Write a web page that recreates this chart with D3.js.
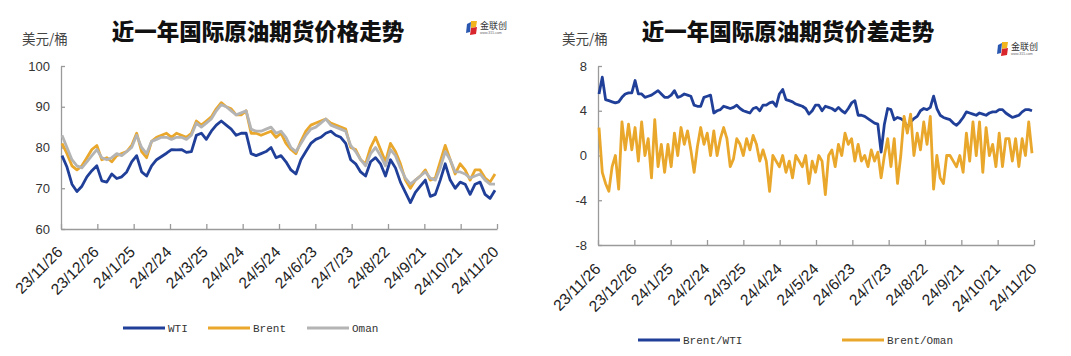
<!DOCTYPE html>
<html><head><meta charset="utf-8">
<script src="https://cdn.jsdelivr.net/npm/d3@7"></script>
<style>
body{margin:0;background:#fff;}
svg{display:block;}
</style></head>
<body>
<svg id="c" width="1071" height="356"></svg>
<script>
// ---------- data ----------
const dateLabels = ["23/11/26","23/12/26","24/1/25","24/2/24","24/3/25","24/4/24","24/5/24","24/6/23","24/7/23","24/8/22","24/9/21","24/10/21","24/11/20"];
const priceTicks = [60,70,80,90,100];
const spreadTicks = [-8,-4,0,4,8];

const wti = [78,75.2,71,69.2,70.5,72.8,74.3,75.5,71.8,71.5,73.5,72.4,72.8,74,76.5,78,74,73,75.5,77,77.8,78.6,79.5,79.4,79.5,78.8,79,83,83.5,82,84,85.5,86.5,85.5,84.5,83,83.5,83.5,78.5,78,78.5,79,80,77.5,78,76.5,74.5,73.5,77,79,81,82,82.5,83.5,84,83,82.5,81,77,76,74,73,76.5,77.5,76,73,77,75,71.5,69,66.5,69,70.5,72,68,68.5,72,76,72,70,71.5,71,68.5,71,71.5,68.5,67.5,69.5];
const brent = [81,78.5,75.5,74.5,75.5,77.5,79.5,80.5,77,77.5,76.5,78,78.5,79,80.5,83.5,79,77.5,81.5,82.5,83,83.5,82.5,83.5,83,82.5,83.5,86.5,85.5,86.5,87.5,89.5,91,90,89.5,88,88,89,83.5,83.5,83,83.5,84,82.5,83.5,81,79.5,78.5,81.5,84,85.5,86,86.5,87,86,85.5,85,84.5,80,79.5,77,76,80,82.5,79.5,76.5,81,79,76,72,70,72,73,74.5,72,72.5,76.5,80.5,77,73.5,76,74.5,72,74.5,74.5,72.5,71.5,73.5];
const oman = [83,80,77,75.5,75,76.5,78,79.5,77.5,77,77.5,78.5,78,79,80,83,80,78.5,81.5,82,82.5,82.5,82,82.5,82.5,82,83,86,85,86,87,89,90.5,90,89,88,88.5,89,84.5,84,84,84.5,85,83.5,84,82.5,80,79,81,83,84.5,85,86,87,85.5,85,84.5,84,80.5,79,77,75.5,78.5,80,78,75.5,79.5,78,75,72.5,71,72,73,74,72.5,72,75,79,77,74,74,73.5,72.5,73,73.5,72,71,71];

const brentWti = [5.5,7,5,4.9,4.8,4.7,4.8,5.2,5.5,5.6,5.6,6.7,5.5,5.5,5.2,5.3,5.4,5.6,5.8,5.5,5.2,5.2,5.4,5.8,5.2,5.3,5.5,5.4,5.3,4.5,4.4,4.4,5.2,5.3,5.4,3.8,4.0,4.1,4.4,4.3,4.2,4.3,4.5,4.2,4.0,3.9,3.8,4.2,4.3,4.0,4.5,4.5,4.7,4.8,4.4,5.5,5.9,5.0,4.9,4.8,4.6,4.5,4.4,4.2,3.7,4.0,4.5,4.5,4.0,4.4,4.3,4.2,4.0,4.3,4.0,3.8,4.2,4.7,4.9,3.6,3.6,3.5,3.3,3.1,2.9,2.8,0.3,2.8,4.2,4.1,3.2,3.4,3.3,3.1,2.5,3.0,3.3,3.5,4.0,4.2,4.1,4.3,5.3,4.2,3.6,3.4,3.3,3.2,2.9,2.7,3.0,3.4,3.9,3.8,3.7,3.6,3.8,3.7,3.6,3.8,3.9,3.9,4.1,4.1,3.8,3.6,3.4,3.5,3.6,3.9,4.1,4.1,4.0];
const brentOman = [2.5,-1.5,-2.5,-3.2,-1,0,-3,3,0.5,2.8,0.5,2.5,-0.5,3,0,1.5,-2,3.2,-1,1,-1.5,1,-1,2,0,2.5,1,2.2,0.5,-1.5,0.8,2.5,1,2,0,2.2,0,1.5,2.5,1.5,-1,-0.3,1.5,1,0,1.5,0.5,1.8,1,-0.5,0.5,-0.5,-3.2,0,-0.5,-1,0,-1.5,-0.5,-2,0,-0.5,-1,0,-2.5,-0.5,-1.5,0,-0.5,-3.5,0,0.5,-1,1,0,2,1,1.5,-0.5,1,-0.5,0,-1,0.5,-0.5,0.3,-2,0,1.5,-1,1.5,-2.5,0,3.5,2,3.7,0,2,0.5,3,1,3.5,-3,0,-2,-2.5,0,0,-0.5,-1,0,-1.5,2,-0.5,3,0,3,-1.5,2.5,0,1,-1,2,-1,1.5,1.5,-0.5,1.5,-1,1.5,0,3,0.2];

// ---------- style ----------
const C_BLUE = "#203f98", C_ORANGE = "#e9a72c", C_GRAY = "#b4b4b4", C_AXIS = "#9a9a9a";
const CJK = "'Noto Sans CJK SC','Noto Sans',sans-serif";
const svg = d3.select("#c");

function drawChart(cfg){
  const g = svg.append("g");
  const y = d3.scaleLinear().domain(cfg.yDomain).range([cfg.yBot, cfg.yTop]);
  const xTick = d3.scalePoint().domain(dateLabels).range([cfg.x0, cfg.x1]);

  // title
  g.append("text").attr("x", cfg.titleX).attr("y", 40).attr("text-anchor","middle")
    .style("font-family", CJK).style("font-weight", 900).style("font-size","22.5px").attr("fill","#111")
    .text(cfg.title);
  // unit
  g.append("text").attr("x", cfg.unitX).attr("y", 44)
    .style("font-family", CJK).style("font-size","13.5px").attr("fill","#444")
    .text("美元/桶");

  // y axis
  const ya = d3.axisLeft(y).tickValues(cfg.yTicks).tickSize(-4).tickSizeOuter(0).tickPadding(11);
  const yg = g.append("g").attr("transform", `translate(${cfg.x0},0)`).call(ya);
  yg.select(".domain").attr("stroke", C_AXIS).attr("stroke-width",1.3);
  yg.selectAll(".tick line").attr("stroke", C_AXIS).attr("stroke-width",1.3);
  yg.selectAll(".tick text").style("font-family","'Liberation Sans',Arial,sans-serif").style("font-size","13px").attr("fill","#333")
    .text(d => d < 0 ? "-" + Math.abs(d) : d);

  // x axis
  const xa = d3.axisBottom(xTick).tickSize(-5).tickSizeOuter(0);
  const xg = g.append("g").attr("transform", `translate(0,${cfg.yBot})`).call(xa);
  xg.select(".domain").attr("stroke", C_AXIS).attr("stroke-width",1.3);
  xg.selectAll(".tick line").attr("stroke", C_AXIS).attr("stroke-width",1.3);
  xg.selectAll(".tick text").attr("y",0).attr("dy",0)
    .attr("transform",`translate(${cfg.lblDx},${cfg.lblDy}) rotate(-45)`)
    .style("text-anchor","end")
    .style("font-family","'Liberation Sans',Arial,sans-serif").style("font-size","15.5px").attr("fill","#222");

  // series (draw order)
  cfg.draw.forEach(s => {
    const x = d3.scaleLinear().domain([0, s.values.length - 1]).range([cfg.x0 + 1, cfg.x1 - 2]);
    const line = d3.line().x((d,i) => x(i)).y(d => y(d));
    g.append("path").datum(s.values).attr("d", line).attr("fill","none")
      .attr("stroke", s.color).attr("stroke-width", 2.8).attr("stroke-linejoin","round");
  });

  // legend
  cfg.draw.forEach(s => {
    g.append("line").attr("x1", s.lx).attr("x2", s.lx + 42).attr("y1", cfg.legY).attr("y2", cfg.legY)
      .attr("stroke", s.color).attr("stroke-width", 3);
    g.append("text").attr("x", s.lx + 45).attr("y", cfg.legY + 4)
      .style("font-family","'Liberation Mono','DejaVu Sans Mono',monospace").style("font-size","11px").attr("fill","#333")
      .text(s.name);
  });

  // logo
  const lg = g.append("g").attr("transform", `translate(${cfg.logoX},${cfg.logoY})`);
  lg.append("path").attr("d","M2,3 L6,1 L5,11 L1,12 Z").attr("fill","#2a58b0");
  lg.append("path").attr("d","M6,0 L12,0 L11,6 L6,7 Z").attr("fill","#f2b51d");
  lg.append("path").attr("d","M6,7 L12,6 L11,13 L5,14 Z").attr("fill","#d8262c");
  lg.append("text").attr("x",15).attr("y",8).style("font-family",CJK).style("font-size","9px").attr("fill","#333").text("金联创");
  lg.append("text").attr("x",15).attr("y",13).style("font-family","sans-serif").style("font-size","3.5px").attr("fill","#666").text("www.315.com");
}

drawChart({
  title: "近一年国际原油期货价格走势", titleX: 258, unitX: 22,
  x0: 61, x1: 497, yTop: 66, yBot: 229, yDomain: [60,100], yTicks: priceTicks,
  lblDx: 2, lblDy: 24,
  legY: 328, logoX: 465, logoY: 21,
  draw: [
    {name:"WTI", values: wti, color: C_BLUE, lx: 123},
    {name:"Brent", values: brent, color: C_ORANGE, lx: 208},
    {name:"Oman", values: oman, color: C_GRAY, lx: 307}
  ]
});
drawChart({
  title: "近一年国际原油期货价差走势", titleX: 788, unitX: 562,
  x0: 598, x1: 1034, yTop: 66, yBot: 245, yDomain: [-8,8], yTicks: spreadTicks,
  lblDx: 3, lblDy: 25,
  legY: 340, logoX: 996, logoY: 42,
  draw: [
    {name:"Brent/WTI", values: brentWti, color: C_BLUE, lx: 638},
    {name:"Brent/Oman", values: brentOman, color: C_ORANGE, lx: 842}
  ]
});
</script>
</body></html>
